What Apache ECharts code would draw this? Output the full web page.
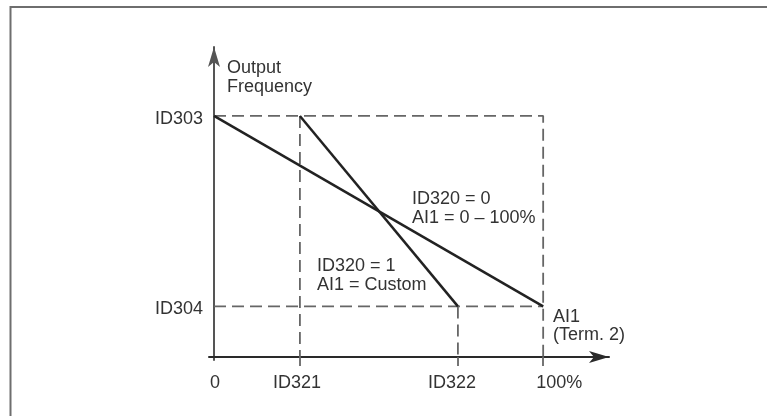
<!DOCTYPE html>
<html>
<head>
<meta charset="utf-8">
<script src="https://cdn.jsdelivr.net/npm/echarts@6/dist/echarts.min.js"></script>
<style>
html,body{margin:0;padding:0;background:#fff;}
#chart{width:767px;height:416px;}
</style>
</head>
<body>
<div id="chart"></div>
<script>
// ---- data ----
const xTickValues = [0, 26.1, 74.1, 100];
const xTickLabels = ['0', 'ID321', 'ID322', '100%'];
const yTickValues = [21, 100];
const yTickLabels = ['ID304', 'ID303'];
const lineStandard = [[0, 100], [100, 21]];      // ID320 = 0, AI1 = 0 – 100%
const lineCustom = [[26.1, 100], [74.1, 21]];    // ID320 = 1, AI1 = Custom
const guideTop = [[0, 100], [100, 100], [100, 0]];
const guideBottom = [[0, 21], [100, 21]];
const guideID321 = [[26.1, 100], [26.1, 0]];
const guideID322 = [[74.1, 21], [74.1, 0]];

const FONT = '"Liberation Sans", Arial, sans-serif';
const TXT = '#333';

const chart = echarts.init(document.getElementById('chart'), null, {renderer: 'canvas'});

const xPad = {'0': [0,0,0,2], 'ID321': [0,6,0,0], 'ID322': [0,12,0,0], '100%': [0,0,0,32]};

function dashed(data) {
  return {
    type: 'line', data: data, symbol: 'none', silent: true, z: 1,
    lineStyle: {color: '#666', width: 1.8, type: [12, 6]}
  };
}

const option = {
  animation: false,
  backgroundColor: '#fff',
  grid: {left: 209, right: 158, top: 47, bottom: 56, containLabel: false},
  xAxis: {
    type: 'value', min: -1.52, max: 120,
    splitLine: {show: false},
    axisLine: {show: true, onZero: true, symbol: ['none', 'arrow'], symbolSize: [9, 20],
      lineStyle: {color: '#2a2a2a', width: 2}},
    axisTick: {show: true, customValues: [26.1, 74.1, 100], length: 9, inside: false,
      lineStyle: {color: '#666', width: 1.8}},
    axisLabel: {
      show: true, customValues: xTickValues, margin: 14,
      formatter: function (v) {
        const i = xTickValues.indexOf(v);
        const s = i >= 0 ? xTickLabels[i] : '';
        const key = ['a','b','c','d'][i];
        return '{' + key + '|' + s + '}';
      },
      rich: {
        a: {fontFamily: FONT, fontSize: 18, color: TXT, padding: xPad['0']},
        b: {fontFamily: FONT, fontSize: 18, color: TXT, padding: xPad['ID321']},
        c: {fontFamily: FONT, fontSize: 18, color: TXT, padding: xPad['ID322']},
        d: {fontFamily: FONT, fontSize: 18, color: TXT, padding: xPad['100%']}
      }
    }
  },
  yAxis: {
    type: 'value', min: -1.245, max: 128.6,
    splitLine: {show: false},
    axisLine: {show: true, onZero: true, symbol: ['none', 'arrow'], symbolSize: [9, 20],
      lineStyle: {color: '#555', width: 2}},
    axisTick: {show: false},
    axisLabel: {
      show: true, customValues: yTickValues, margin: 6,
      formatter: function (v) {
        const i = yTickValues.indexOf(v);
        return '{y|' + (i >= 0 ? yTickLabels[i] : '') + '}';
      },
      rich: {y: {fontFamily: FONT, fontSize: 18, color: TXT, padding: [6, 0, 0, 0]}}
    }
  },
  series: [
    dashed(guideTop),
    dashed(guideBottom),
    dashed(guideID321),
    dashed(guideID322),
    {type: 'line', name: 'ID320 = 0', data: lineStandard, symbol: 'none', silent: true, z: 3,
      lineStyle: {color: '#222', width: 2.5}},
    {type: 'line', name: 'ID320 = 1', data: lineCustom, symbol: 'none', silent: true, z: 3,
      lineStyle: {color: '#222', width: 2.5}}
  ],
  graphic: [
    {type: 'polyline', silent: true, shape: {points: [[10.5, 416], [10.5, 7], [767, 7]]},
      style: {stroke: '#6e6e6e', lineWidth: 2, fill: null}},
    {type: 'text', left: 227, top: 59, silent: true,
      style: {text: 'Output\nFrequency', font: '18px ' + FONT, fill: TXT, lineHeight: 19}},
    {type: 'text', left: 412, top: 190, silent: true,
      style: {text: 'ID320 = 0\nAI1 = 0 – 100%', font: '18px ' + FONT, fill: TXT, lineHeight: 19}},
    {type: 'text', left: 317, top: 257, silent: true,
      style: {text: 'ID320 = 1\nAI1 = Custom', font: '18px ' + FONT, fill: TXT, lineHeight: 19}},
    {type: 'text', left: 553, top: 308, silent: true,
      style: {text: 'AI1\n(Term. 2)', font: '18px ' + FONT, fill: TXT, lineHeight: 18}}
  ]
};
chart.setOption(option);
</script>
</body>
</html>
